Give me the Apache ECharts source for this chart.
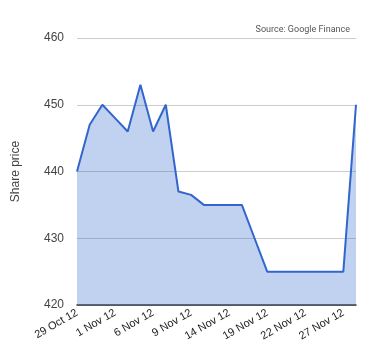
<!DOCTYPE html>
<html>
<head>
<meta charset="utf-8">
<script src="https://cdn.jsdelivr.net/npm/echarts@6/dist/echarts.min.js"></script>
<style>
html,body{margin:0;padding:0;background:#fff;}
#chart{width:380px;height:360px;}
</style>
</head>
<body>
<div id="chart"></div>
<script>
const categories = ['29 Oct 12','30 Oct 12','31 Oct 12','1 Nov 12','2 Nov 12','5 Nov 12','6 Nov 12','7 Nov 12','8 Nov 12','9 Nov 12','12 Nov 12','13 Nov 12','14 Nov 12','15 Nov 12','16 Nov 12','19 Nov 12','20 Nov 12','21 Nov 12','22 Nov 12','23 Nov 12','26 Nov 12','27 Nov 12','28 Nov 12'];
const prices = [440,447,450,448,446,453,446,450,437,436.5,435,435,435,435,430,425,425,425,425,425,425,425,450];
const yTicks = [420,430,440,450,460];

const chart = echarts.init(document.getElementById('chart'));
chart.setOption({
  animation:false,
  textStyle:{fontFamily:'Arial, "Liberation Sans", sans-serif'},
  title:{
    text:'Source: Google Finance',
    right:25, top:20,
    textStyle:{fontSize:9, fontWeight:'normal', color:'#555', fontFamily:'Roboto, Arial, sans-serif'}
  },
  grid:{left:77, right:24, top:38, bottom:55},
  xAxis:{
    type:'category',
    data:categories,
    boundaryGap:false,
    axisLine:{lineStyle:{color:'#333', width:1.5}},
    axisTick:{show:false},
    axisLabel:{interval:2, rotate:30, fontSize:11, color:'#222', margin:7}
  },
  yAxis:{
    type:'value',
    min:yTicks[0], max:yTicks[yTicks.length-1], interval:10,
    name:'Share price',
    nameLocation:'middle',
    nameGap:55,
    nameTextStyle:{fontSize:12, color:'#444'},
    axisLine:{show:false},
    axisTick:{show:false},
    axisLabel:{fontSize:12, color:'#444', margin:13},
    splitLine:{lineStyle:{color:'#ccc'}}
  },
  series:[{
    type:'line',
    data:prices,
    symbol:'none',
    lineStyle:{color:'#3366cc', width:2},
    areaStyle:{color:'#3366cc', opacity:0.3},
    z:1
  }]
});
</script>
</body>
</html>
